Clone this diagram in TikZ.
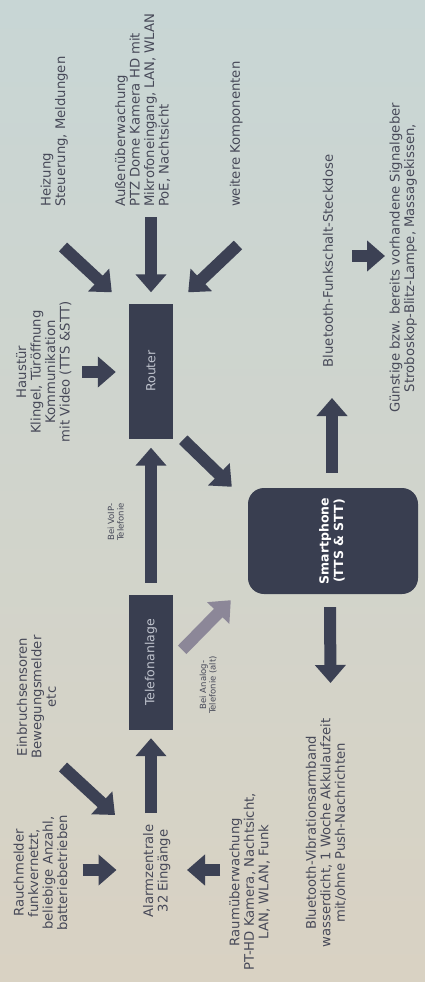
\documentclass[tikz,border=0pt]{standalone}
\usepackage{fontspec}
\usepackage{graphicx}
\setmainfont{DejaVu Sans}
\usetikzlibrary{arrows.meta,calc}
\definecolor{bgtop}{HTML}{C8D6D5}
\definecolor{bgmid}{HTML}{D0D4CC}
\definecolor{bgbot}{HTML}{D9D2C3}
\definecolor{boxc}{HTML}{393E50}
\definecolor{arrc}{HTML}{3C4154}
\definecolor{grayarr}{HTML}{8C8798}
\definecolor{txt}{HTML}{474958}
\definecolor{boxtxt}{HTML}{BFC3CD}
\newcommand{\rotl}[1]{\rotatebox{90}{\begin{tabular}{@{}l@{}}#1\end{tabular}}}
\newcommand{\rotc}[1]{\rotatebox{90}{\begin{tabular}{@{}c@{}}#1\end{tabular}}}
\begin{document}
\begin{tikzpicture}[x=1pt,y=-1pt,
  lbl/.style={inner sep=0pt, text=txt, font={\fontsize{13.2}{14.5}\selectfont}},
  small/.style={inner sep=0pt, text=txt, font={\fontsize{8.5}{9.5}\selectfont}},
  darkbox/.style={fill=boxc, draw=none, inner sep=0pt, minimum width=44pt, minimum height=135pt,
    text=boxtxt, font={\fontsize{12.5}{14}\selectfont}},
  phonebox/.style={fill=boxc, draw=none, rounded corners=16pt, inner sep=0pt,
    minimum width=170pt, minimum height=106pt, text=white, font={\bfseries\fontsize{12.5}{14.5}\selectfont}},
  fat/.style={line width=12pt, draw=arrc, -{Triangle[length=18pt,width=30pt]}},
  fatgray/.style={fat, draw=grayarr}]
\shade[top color=bgtop, middle color=bgmid, bottom color=bgbot] (0,0) rectangle (425,982);
\useasboundingbox (0,0) rectangle (425,982);

% boxes
\node[darkbox] (router) at (151,371) {\rotatebox{90}{Router}};
\node[darkbox] (tel) at (151,662.5) {\rotatebox{90}{Telefonanlage}};
\node[phonebox] (phone) at (333,541) {\rotc{Smartphone\\(TTS \& STT)}};

% texts
\node[lbl, anchor=south] (heiz) at (55,207) {\rotl{Heizung\\Steuerung, Meldungen}};
\node[lbl, anchor=south] (aussen) at (144,207) {\rotl{Außenüberwachung\\PTZ Dome Kamera HD mit\\Mikrofoneingang, LAN, WLAN\\PoE, Nachtsicht}};
\node[lbl, anchor=south] (weitere) at (237,207) {\rotl{weitere Komponenten}};
\node[lbl] (haus) at (45,372) {\rotc{Haustür\\Klingel, Türöffnung\\Kommunikation\\mit Video (TTS \&STT)}};
\node[lbl] (steck) at (330,261) {\rotc{Bluetooth-Funkschalt-Steckdose}};
\node[lbl] (guen) at (404,258) {\rotc{Günstige bzw. bereits vorhandene Signalgeber\\Stroboskop-Blitz-Lampe, Massagekissen,}};
\node[small] (voip) at (117,522) {\rotc{Bei VoIP-\\Telefonie}};
\node[small] (analog) at (209,685) {\rotc{Bei Analog-\\Telefonie (alt)}};
\node[lbl] (einbr) at (38.5,697) {\rotc{Einbruchsensoren\\Bewegungsmelder\\etc}};
\node[lbl] (rauch) at (42.5,873) {\rotc{Rauchmelder\\funkvernetzt,\\beliebige Anzahl,\\batteriebetrieben}};
\node[lbl] (alarm) at (157.5,871) {\rotc{Alarmzentrale\\32 Eingänge}};
\node[lbl] (raum) at (251,882) {\rotc{Raumüberwachung\\PT-HD Kamera, Nachtsicht,\\LAN, WLAN, Funk}};
\node[lbl] (vib) at (327.5,833) {\rotc{Bluetooth-Vibrationsarmband\\wasserdicht, 1 Woche Akkulaufzeit\\mit/ohne Push-Nachrichten}};

% arrows
\draw[fat] ($(rauch)+(40,-3)$) -- ($(alarm)+(-41,-1)$);
\draw[fat] ($(einbr)+(24.5,70)$) -- ($(alarm)+(-42.5,-56)$);
\draw[fat] ($(raum)+(-31,-12)$) -- ($(alarm)+(29.5,-1)$);
\draw[fat] ($(alarm)+(-6.5,-58)$) -- ($(tel.south)+(0,8)$);
\draw[fat] ($(tel.north)+(0,-12)$) -- ($(router.south)+(0,9)$);
\draw[fatgray] ($(tel.north east)+(9,55)$) -- ($(phone.south west)+(-17,6)$);
\draw[fat] ($(haus)+(37,0)$) -- ($(router.west)+(-13,1)$);
\draw[fat] ($(heiz.south)+(8,40)$) -- ($(router.north west)+(-17,-11)$);
\draw[fat] ($(aussen.south)+(7,10)$) -- ($(router.north)+(0,-11)$);
\draw[fat] ($(weitere.south)+(1,38)$) -- ($(router.north east)+(15,-11)$);
\draw[fat] ($(router.south east)+(10,1)$) -- ($(phone.north west)+(-16,-1)$);
\draw[fat] ($(phone.north)+(-1,-15)$) -- ($(steck)+(2,137)$);
\draw[fat] ($(steck)+(22,-5)$) -- ($(guen)+(-19,-2)$);
\draw[fat] ($(phone.south)+(-3,13)$) -- ($(vib)+(3,-150)$);
\end{tikzpicture}
\end{document}
